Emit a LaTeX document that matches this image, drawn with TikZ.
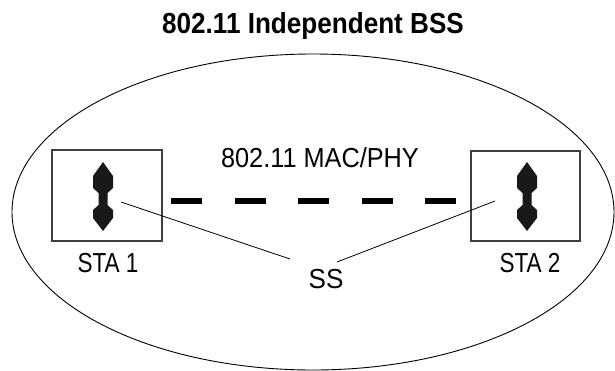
\documentclass[tikz,border=0pt]{standalone}
\usepackage{fontspec}
\setmainfont{Liberation Sans}
\newfontfamily\titlefont[FakeStretch=0.9]{Liberation Sans}
\begin{document}
\begin{tikzpicture}[x=1pt,y=-1pt,
  lbl/.style={font=\fontsize{27.5}{32}\selectfont, inner sep=0pt, anchor=base},
  stabox/.style={draw=black!75, line width=1.1pt},
  thin/.style={line width=0.8pt},
  radio/.style={fill=black!90, draw=none},
  wireless/.style={line width=6pt, dash pattern=on 31pt off 32.5pt}]
\useasboundingbox (0,0) rectangle (615,370);
\clip (0,0) rectangle (615,370);
% BSS boundary
\draw[line width=0.9pt] (313,212) ellipse [x radius=301, y radius=158];
% title
\node[font=\titlefont\bfseries\fontsize{29}{33}\selectfont, inner sep=0pt, anchor=base] (title) at (313,33) {802.11 Independent BSS};
\node[lbl] (mac) at (320,167) {\scalebox{0.92}[1]{802.11 MAC/PHY}};
% stations
\draw[stabox] (52,150) rectangle (162,241);
\draw[stabox] (471,151) rectangle (580,241);
\node[lbl] (sta1) at (108,272) {\scalebox{0.82}[1]{STA 1}};
\node[lbl] (sta2) at (530,272) {\scalebox{0.82}[1]{STA 2}};
\node[lbl] (ss) at (326,288) {\scalebox{0.95}[1]{SS}};
% double arrows
\foreach \cx in {103,527}{
  \fill[radio] (\cx,162) -- (\cx-10,176) -- (\cx-10,188) -- (\cx-4.5,193) -- (\cx-4.5,205)
    -- (\cx-10,210) -- (\cx-10,218) -- (\cx,231) -- (\cx+10,218) -- (\cx+10,210)
    -- (\cx+4.5,205) -- (\cx+4.5,193) -- (\cx+10,188) -- (\cx+10,176) -- cycle;
}
% wireless link
\coordinate (w1) at (171,201);
\coordinate (w2) at (456,201);
\draw[wireless] (w1) -- (w2);
% SS callout lines
\coordinate (p1) at (121,202);
\coordinate (p2) at (495,201);
\coordinate (s1) at (290,259);
\coordinate (s2) at (337,262);
\draw[thin] (p1) -- (s1);
\draw[thin] (p2) -- (s2);
\end{tikzpicture}
\end{document}
